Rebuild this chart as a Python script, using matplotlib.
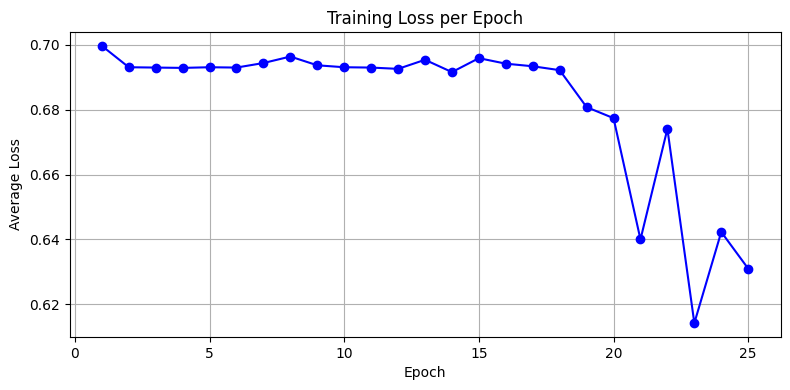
import matplotlib
matplotlib.use("Agg")
import matplotlib.pyplot as plt

epochs = list(range(1, 26))
avg_loss = [0.6997, 0.6931, 0.6930, 0.6929, 0.6931, 0.6930, 0.6944, 0.6964,
            0.6937, 0.6931, 0.6930, 0.6926, 0.6954, 0.6916, 0.6959, 0.6942,
            0.6934, 0.6922, 0.6808, 0.6774, 0.6400, 0.6741, 0.6142, 0.6423,
            0.6310]

fig, ax = plt.subplots(figsize=(7.9, 3.9), dpi=100)
ax.plot(epochs, avg_loss, marker='o', color='blue')
ax.set_title("Training Loss per Epoch")
ax.set_xlabel("Epoch")
ax.set_ylabel("Average Loss")
ax.grid(True)
fig.subplots_adjust(left=0.088, right=0.988, top=0.918, bottom=0.136)
plt.savefig("out.png")
